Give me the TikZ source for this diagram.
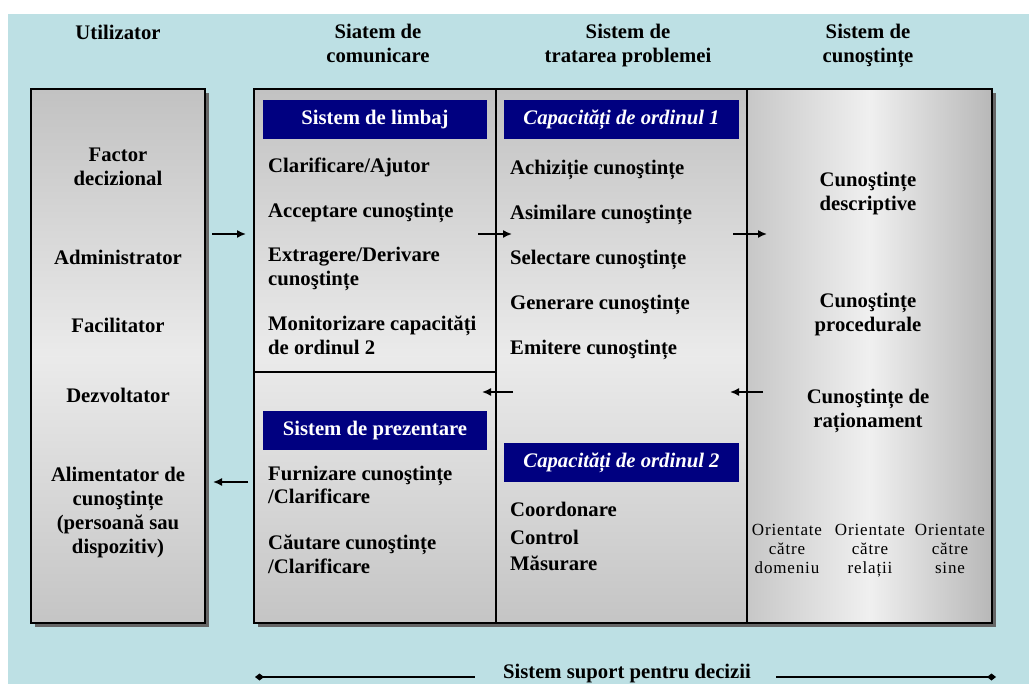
\documentclass[tikz,border=0pt]{standalone}
\usepackage{fontspec}
\setmainfont{Liberation Serif}
\newfontfamily\spaced[LetterSpace=5]{Liberation Serif}
\usetikzlibrary{arrows.meta,positioning,shadows}
\definecolor{bgblue}{RGB}{189,224,228}
\definecolor{navy}{RGB}{0,0,128}
\newcommand{\bigf}{\fontsize{20.7}{24}\selectfont\bfseries}
\tikzset{
	panel/.style={draw, line width=1.6pt, inner sep=0pt, outer sep=0pt, minimum height=534pt,
		drop shadow={shadow xshift=4pt, shadow yshift=-4pt, fill=black!60, opacity=1}},
	vshade/.style={top color=black!24, bottom color=black!23, middle color=black!8},
	hshade/.style={left color=black!22, right color=black!28, middle color=black!6},
	tag/.style={fill=navy, text=white, minimum height=39pt, inner sep=0pt},
	it/.style={font={\bigf\itshape}},
	l/.style={anchor=base west, align=left, inner sep=0pt},
	c/.style={anchor=base, align=center, inner sep=0pt},
	small/.style={c, font={\spaced\mdseries\fontsize{17}{19}\selectfont}},
	flow/.style={line width=1.6pt, -{Latex[length=9pt,width=8pt]}},
	ends/.style={line width=1.6pt, -{Diamond[length=9pt,width=7pt]}}
}
\begin{document}
\begin{tikzpicture}[x=1pt, y=-1pt, font=\bigf]
	\useasboundingbox (0,0) rectangle (1029,684);
	\fill[bgblue] (8,14) rectangle (1029,684);
	% titluri coloane (y = linia de baza a ultimului rand)
	\node[c] (h_u) at (118,40) {Utilizator};
	\node[c] (h_c) at (378,63) {Siatem de\\comunicare};
	\node[c] (h_t) at (628,63) {Sistem de\\tratarea problemei};
	\node[c] (h_k) at (868,63) {Sistem de\\cunoştințe};
	% panouri
	\node[panel, vshade, minimum width=174pt] (usr) at (118,356) {};
	\node[panel, vshade, minimum width=242pt] (com) at (375,356) {};
	\node[panel, vshade, minimum width=251pt] (trt) at (621.5,356) {};
	\node[panel, hshade, minimum width=245pt] (cun) at (869.5,356) {};
	\draw[line width=1.6pt] ([yshift=-16pt]com.west) -- ([yshift=-16pt]com.east);
	% etichete albastre
	\node[tag, minimum width=224pt] (t_limbaj) at (375,119.5) {Sistem de limbaj};
	\node[tag, it, minimum width=235pt] (t_ord1) at (621.5,119.5) {Capacități de ordinul 1};
	\node[tag, minimum width=224pt] (t_prez) at (375,431) {Sistem de prezentare};
	\node[tag, it, minimum width=235pt] (t_ord2) at (621.5,462.5) {Capacități de ordinul 2};
	% utilizator
	\node[c] (u_0) at (118,186) {Factor\\decizional};
	\node[c] (u_1) at (118,265) {Administrator};
	\node[c] (u_2) at (118,333) {Facilitator};
	\node[c] (u_3) at (118,403) {Dezvoltator};
	\node[c] (u_4) at (118,554) {Alimentator de\\cunoştințe\\(persoană sau\\dispozitiv)};
	% comunicare
	\node[l] (c_0) at (268,173) {Clarificare/Ajutor};
	\node[l] (c_1) at (268,218) {Acceptare cunoştințe};
	\node[l] (c_2) at (268,286) {Extragere/Derivare\\cunoştințe};
	\node[l] (c_3) at (268,355) {Monitorizare capacități\\de ordinul 2};
	\node[l] (c_4) at (268,504) {Furnizare cunoştințe\\/Clarificare};
	\node[l] (c_5) at (268,573) {Căutare cunoştințe\\/Clarificare};
	% tratarea problemei
	\node[l] (t_0) at (510,175) {Achiziție cunoştințe};
	\node[l] (t_1) at (510,220) {Asimilare cunoştințe};
	\node[l] (t_2) at (510,265) {Selectare cunoştințe};
	\node[l] (t_3) at (510,310) {Generare cunoştințe};
	\node[l] (t_4) at (510,355) {Emitere cunoştințe};
	\node[l] (t_5) at (510,517) {Coordonare};
	\node[l] (t_6) at (510,544) {Control};
	\node[l] (t_7) at (510,571) {Măsurare};
	% cunostinte
	\node[c] (k_0) at (868,211) {Cunoştințe\\descriptive};
	\node[c] (k_1) at (868,332) {Cunoştințe\\procedurale};
	\node[c] (k_2) at (868,428) {Cunoştințe de\\raționament};
	\node[small] (o_0) at (787,573) {Orientate\\către\\domeniu};
	\node[small] (o_1) at (870,573) {Orientate\\către\\relații};
	\node[small] (o_2) at (950,573) {Orientate\\către\\sine};
	% sageti
	\draw[flow] ([shift={(7pt,122pt)}]usr.east) -- ([shift={(-8pt,122pt)}]com.west);
	\draw[flow] ([shift={(-18pt,122pt)}]com.east) -- ([shift={(16pt,122pt)}]trt.west);
	\draw[flow] ([shift={(-14pt,122pt)}]trt.east) -- ([shift={(20pt,122pt)}]cun.west);
	\draw[flow] ([shift={(16pt,-36pt)}]cun.west) -- ([shift={(-17pt,-36pt)}]trt.east);
	\draw[flow] ([shift={(17pt,-36pt)}]trt.west) -- ([shift={(-14pt,-36pt)}]com.east);
	\draw[flow] ([shift={(-6pt,-126pt)}]com.west) -- ([shift={(8pt,-126pt)}]usr.east);
	% sistem suport
	\node[c] (ssd) at (627,678) {Sistem suport pentru decizii};
	\coordinate (ssd_l) at (255,677);
	\coordinate (ssd_r) at (996,677);
	\draw[ends, shorten <=28pt] (ssd.west |- ssd_l) -- (ssd_l);
	\draw[ends, shorten <=25pt] (ssd.east |- ssd_r) -- (ssd_r);
\end{tikzpicture}
\end{document}
